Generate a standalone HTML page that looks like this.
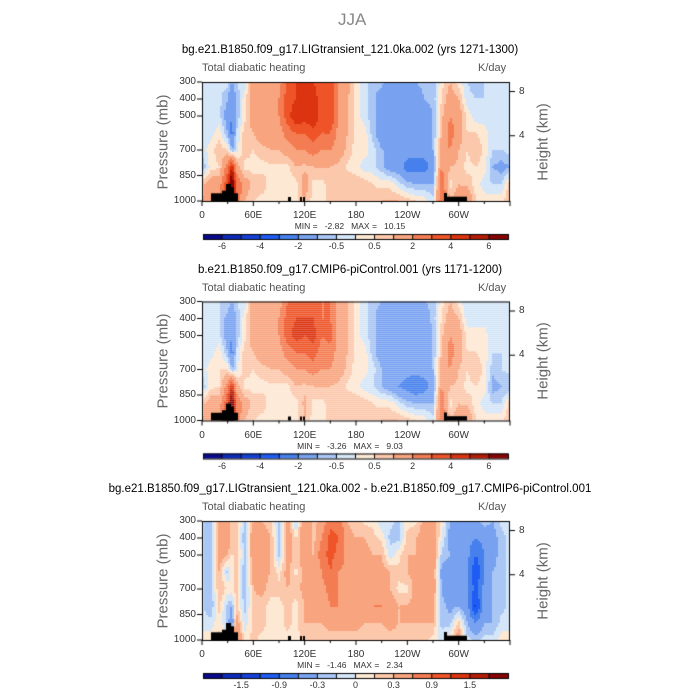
<!DOCTYPE html>
<html><head><meta charset="utf-8">
<style>
body{margin:0;background:#fff;}
#root{position:relative;width:700px;height:700px;overflow:hidden;font-family:"Liberation Sans",sans-serif;}
.t{position:absolute;white-space:nowrap;}
canvas{position:absolute;left:0;top:0;}
</style></head>
<body><div id="root">
<canvas id="cv" width="700" height="700"></canvas>
</div>
<script>
// ---- data ----
const lons=[0,10,20,30,35,40,50,60,70,80,90,100,110,120,130,140,150,160,170,180,190,200,210,220,230,240,250,260,270,280,290,300,310,320,330,340,350,360];
const levels=[300,400,500,600,700,800,900,1000];
const field1=[
[-0.3,-0.3,-0.3,-0.3,-0.3,-1,0.8,1],
[-0.3,-0.3,-0.3,-0.3,0.3,0.2,1.5,1.5],
[-0.3,-0.3,-0.3,0.3,0.8,0.5,1.5,1.5],
[-0.3,-1,-1.5,-1,0.5,2.5,4,4],
[-1,-2,-2,-2.5,-1,5,8,8],
[-0.5,-1,-1,-0.5,-0.3,1.5,3,3],
[-0.3,0.3,0.3,0.8,0.8,0.3,1.5,1],
[1.5,1.5,1.5,1,0.5,0.3,0.8,0.5],
[1.5,1.5,1.5,1.5,0.8,0.3,0.8,0.3],
[1.5,1.5,1.5,1.5,1,0.4,0.3,0.3],
[1.5,2,2,1.5,1,0.4,0.3,0.3],
[3.5,3.5,3.5,2.5,1.5,0.3,0.3,0.3],
[4,4,5,3,2,1,0.3,0.3],
[4,4,4.5,3,2,0.8,1.5,1],
[4,4.5,5,3.5,2.5,1,0.3,0.3],
[3.5,3.5,3.5,3,2,1,0.3,0.3],
[4,3.5,4,3,2,1,0.8,0.8],
[2,2,2,1.5,1.5,0.8,1,1],
[1.5,1,1,1,0.8,0.4,0.8,0.8],
[0.3,0.3,0.3,0.3,0.3,0.3,0.8,0.8],
[-0.3,-0.3,-0.3,0.3,0.3,-0.3,0.8,0.8],
[-0.8,-0.8,-0.8,-0.8,-0.3,-0.3,0.5,0.8],
[-0.8,-1.5,-1.5,-1.5,-1,-0.8,0.3,1],
[-1.5,-1.5,-1.5,-1.5,-1,-1.5,0.3,1],
[-1,-1.5,-1.5,-1.5,-1,-1.5,-0.3,1],
[-1,-1.5,-1.5,-1.5,-1.5,-2.5,-0.8,0.8],
[-1,-1.5,-1.5,-1.5,-1.5,-2.5,-1,0.5],
[-0.8,-1,-1.5,-1.5,-1.5,-2.5,-1,0.3],
[-0.8,-0.8,-1,-1,-1,-1.5,-1,-0.3],
[0.3,0.5,0.8,1,1.5,2,3,3],
[1,1.5,2,2.5,2,1,0.3,1],
[0.3,1,1.5,1.5,1,0.8,1,1.5],
[-0.5,-0.3,0.3,0.5,0.5,0.3,0.8,2],
[-0.8,-0.5,-0.3,0.5,1,0.5,0.3,0.5],
[-0.5,-0.5,-0.3,0.3,0.3,0.3,-0.3,0.3],
[-0.5,-0.5,-0.5,-0.5,-0.5,-1,-0.5,0.3],
[-0.5,-0.5,-0.5,-0.5,-0.5,-1.3,-0.5,0.3],
[-0.3,-0.3,-0.3,-0.3,-0.3,-1,0.8,1]];
const field2=[
[-0.3,-0.3,-0.3,-0.3,-0.3,-1,0.8,1],
[-0.3,-0.3,-0.3,-0.3,0.3,0.3,1.5,1.5],
[-0.5,-0.5,-0.3,0.3,0.5,0.5,1.5,1.5],
[-0.5,-1.3,-1.5,-1,0.5,2.5,4,4],
[-1,-2,-2,-2.5,-1,5,8,8],
[-0.5,-1,-1,-0.5,-0.3,1.5,3,3],
[-0.3,0.3,0.3,0.8,0.8,0.3,1.5,1],
[1.5,1.5,1.5,1,0.5,0.3,0.8,0.5],
[1.5,1.5,1.5,1.5,0.8,0.3,0.8,0.3],
[1.5,1.5,1.5,1.5,1,0.4,0.3,0.3],
[1.5,2,2,1.5,1,0.4,0.3,0.3],
[3,3.5,3.5,2.5,1.5,0.3,0.3,0.3],
[4,4,4.5,3,2,1,0.3,0.3],
[3.5,4,4,3,2,0.8,1.2,1],
[3.5,4,4.5,3.5,2.5,1,0.3,0.3],
[3,3,3,2.5,2,1,0.3,0.3],
[3,3,3.5,2.5,2,1,0.8,0.8],
[1.5,1.5,1.5,1.5,1.5,0.8,1,1],
[1,1,1,1,0.8,0.4,0.8,0.8],
[0.3,0.3,0.3,0.3,0.3,0.3,0.8,0.8],
[-0.3,-0.3,-0.3,0.3,0.3,-0.3,0.8,0.8],
[-0.8,-0.8,-0.8,-0.8,-0.3,-0.5,0.5,0.8],
[-1,-1.5,-1.5,-1.5,-1,-1,0.3,1],
[-1.5,-1.5,-1.5,-1.5,-1.3,-1.5,0.3,1],
[-1.5,-1.5,-1.5,-1.5,-1.3,-2,-0.3,1],
[-1.5,-1.5,-1.5,-1.5,-1.5,-2.5,-0.8,0.8],
[-1.5,-1.5,-1.5,-1.5,-1.5,-3,-1,0.5],
[-1,-1.5,-1.5,-1.5,-1.5,-2.5,-1,0.3],
[-0.8,-0.8,-1,-1,-1,-1.5,-1,-0.3],
[0.3,0.5,0.8,1,1.5,2,3,3],
[1,1.5,2,2.5,2,1,0.3,1],
[0.3,1,1.5,1.5,1,0.8,1,1.5],
[-0.5,-0.3,0.3,0.5,0.5,0.3,0.8,2],
[-0.5,-0.3,0.3,0.5,1,0.5,0.3,0.5],
[-0.3,-0.3,0.3,0.3,0.3,0.3,-0.3,0.3],
[-0.5,-0.5,-0.5,-0.5,-0.8,-1.3,-0.5,0.3],
[-0.3,-0.3,-0.5,-0.5,-0.5,-1,-0.5,0.3],
[-0.3,-0.3,-0.3,-0.3,-0.3,-1,0.8,1]];
const field3=[
[-0.1,-0.1,-0.1,-0.1,-0.1,-0.1,-0.1,0.1],
[-0.3,-0.3,-0.3,-0.3,-0.3,-0.3,-0.1,0.1],
[0.4,0.4,0.4,0.3,0.3,0.2,0.1,0.2],
[0.5,0.5,0.3,-0.2,0.1,-0.2,-0.2,0.2],
[0.2,0.2,0.1,0.1,0.1,-0.3,-0.6,0.5],
[0.3,0.3,0.3,0.2,0.2,0.2,0.5,0.8],
[-0.2,-0.3,-0.2,-0.3,-0.3,-0.2,-0.1,0.1],
[0.3,0.6,0.5,0.4,0.3,0.2,0.2,0.2],
[0.3,0.5,0.5,0.4,0.4,0.2,0.2,0.1],
[0.2,0.3,0.3,0.3,0.2,0.1,0.1,0.1],
[-0.2,-0.2,-0.2,0.1,0.2,0.1,0.1,0.1],
[0.5,0.5,0.4,0.4,0.3,0.2,0.2,0.1],
[-0.2,0.1,0.2,0.1,0.2,0.1,0.1,0.1],
[0.6,0.6,0.5,0.4,0.4,0.3,0.3,0.2],
[0.2,0.2,0.3,0.3,0.3,0.4,0.3,0.2],
[0.4,0.6,0.8,0.6,0.5,0.4,0.3,0.2],
[0.8,1,1,0.9,0.7,0.6,0.4,0.2],
[0.8,0.9,0.8,0.6,0.6,0.6,0.4,0.2],
[0.3,0.4,0.5,0.5,0.5,0.5,0.4,0.2],
[0.2,0.3,0.4,0.4,0.4,0.4,0.4,0.2],
[0.1,0.3,0.4,0.4,0.4,0.4,0.3,0.2],
[0.1,0.2,0.3,0.4,0.4,0.6,0.3,0.2],
[-0.1,0.1,0.3,0.4,0.4,0.6,0.3,0.2],
[-0.1,-0.2,-0.1,0.3,0.3,0.5,0.4,0.2],
[-0.2,-0.2,0.1,0.2,0.1,0.3,0.3,0.2],
[0.1,0.2,0.3,0.3,0.1,0.3,0.3,0.2],
[0.1,0.3,0.3,0.4,0.4,0.4,0.3,0.2],
[0.4,0.4,0.4,0.5,0.5,0.4,0.3,0.2],
[0.4,0.5,0.5,0.5,0.5,0.4,0.3,0.1],
[0.1,0,-0.2,-0.4,-0.3,-0.2,-0.2,-0.1],
[-0.3,-0.4,-0.3,-0.5,-0.6,-0.4,-0.2,0.1],
[-0.3,-0.4,-0.4,-0.4,-0.3,-0.3,0.2,0.5],
[-0.4,-0.5,-0.5,-0.6,-0.6,-0.5,-0.3,-0.1],
[-0.4,-0.6,-0.9,-1.2,-1,-1.3,-0.6,-0.2],
[-0.2,-0.5,-0.6,-0.6,-0.5,-0.4,-0.3,-0.1],
[-0.3,-0.4,-0.4,-0.3,-0.3,-0.3,-0.3,-0.1],
[-0.1,-0.2,-0.2,-0.2,-0.2,-0.2,-0.1,0.1],
[-0.1,-0.1,-0.1,-0.1,-0.1,-0.1,-0.1,0.1]];
const contourLevelsA=[-6,-5,-4,-3,-2,-1,-0.5,0,0.5,1,2,3,4,5,6];
const contourLevelsB=[-1.8,-1.5,-1.2,-0.9,-0.6,-0.3,-0.15,0,0.15,0.3,0.6,0.9,1.2,1.5,1.8];
const cbLabelsA=["-6","-4","-2","-0.5","0.5","2","4","6"];
const cbLabelsB=["-1.5","-0.9","-0.3","0","0.3","0.9","1.5"];
const pTicks=[300,400,500,700,850,1000];
const xTickLons=[0,60,120,180,240,300];
const xTickLabels=["0","60E","120E","180","120W","60W"];
const hTicks=[{km:8,p:356},{km:4,p:616}];
const colors=["#0a0a8c","#0c2bb8","#1440d8","#1e5cf4","#4680ec","#78a2f0","#aac6f4","#d4e6f8","#fde8d4","#fcc8ac","#f8a47e","#f47c52","#ee5428","#dc3410","#b41c06","#880404"];
const panels=[
 {top:82,title:"bg.e21.B1850.f09_g17.LIGtransient_121.0ka.002 (yrs 1271-1300)",field:field1,lev:contourLevelsA,cbl:cbLabelsA,cbStart:1,cbStep:2,min:"-2.82",max:"10.15"},
 {top:301.5,title:"b.e21.B1850.f09_g17.CMIP6-piControl.001 (yrs 1171-1200)",field:field2,lev:contourLevelsA,cbl:cbLabelsA,cbStart:1,cbStep:2,min:"-3.26",max:"9.03"},
 {top:521,title:"bg.e21.B1850.f09_g17.LIGtransient_121.0ka.002 - b.e21.B1850.f09_g17.CMIP6-piControl.001",field:field3,lev:contourLevelsB,cbl:cbLabelsB,cbStart:2,cbStep:2,min:"-1.46",max:"2.34"}
];
// ---- layout ----
const X0=202,X1=510,H=119;
const xs=l=>X0+l/360*(X1-X0);
const root=document.getElementById('root');
const ctx=document.getElementById('cv').getContext('2d');
function txt(s,x,y,size,color,name,extra){
 const d=document.createElement('div');d.className='t';d.textContent=s;
 d.style.left=x+'px';d.style.top=y+'px';d.style.fontSize=size+'px';d.style.color=color;
 if(extra)Object.assign(d.style,extra);
 
 
 root.appendChild(d);return d;
}
function colorFor(v,lev){let i=0;while(i<lev.length&&v>=lev[i])i++;return colors[i];}
function sample(f,lon,p){
 let i=0;while(i<lons.length-2&&lon>lons[i+1])i++;
 const tx=(lon-lons[i])/(lons[i+1]-lons[i]);
 let j=0;while(j<levels.length-2&&p>levels[j+1])j++;
 const ty=Math.max(0,Math.min(1,(p-levels[j])/(levels[j+1]-levels[j])));
 const a=f[i][j]*(1-ty)+f[i][j+1]*ty, b=f[i+1][j]*(1-ty)+f[i+1][j+1]*ty;
 return a*(1-tx)+b*tx;
}
txt("JJA",338,10,17,"#888","main-title");
panels.forEach((P,k)=>{
 const T=P.top,B=T+H, ys=p=>T+(p-300)/700*H;
 const t=txt(P.title,350,T-38,11.5,"#000","panel-title-"+(k+1),{transform:"translateX(-50%)"});
 txt("Total diabatic heating",X0,T-20,11,"#555","panel-subtitle-"+(k+1));
 txt("K/day",X1-32,T-20,11,"#555","units-label-"+(k+1));
 // field
 const st=2;
 for(let x=X0;x<X1;x+=st){for(let y=T;y<B;y+=st){
  const lon=(x+st/2-X0)/(X1-X0)*360, p=300+(y+st/2-T)/H*700;
  ctx.fillStyle=colorFor(sample(P.field,lon,p),P.lev);
  ctx.fillRect(x,y,st,Math.min(st,B-y));
 }}
 // terrain
 ctx.fillStyle="#000";
 const terr=[[211,238,193.3],[222,226,190.7],[226,231,184],[231,234,187.3],[288,291,197],[300,302,197],[303,305,197],[444,467,196.7],[444,447,193]];
 terr.forEach(r=>{const dy=r[2]-201;ctx.fillRect(r[0],B+dy,r[1]-r[0],-dy);});
 // frame
 ctx.strokeStyle="#000";ctx.lineWidth=1;ctx.strokeRect(X0+0.5,T+0.5,X1-X0-1,H);
 pTicks.forEach(p=>{const y=ys(p);ctx.beginPath();ctx.moveTo(X0-5,y);ctx.lineTo(X0,y);ctx.stroke();
  txt(String(p),X0-32,y-6,10,"#333","y-tick-"+p,{width:"26px",textAlign:"right"});});
 hTicks.forEach(h=>{const y=ys(h.p);ctx.beginPath();ctx.moveTo(X1,y);ctx.lineTo(X1+5,y);ctx.stroke();
  txt(String(h.km),X1+9,y-6,10,"#333","height-tick-"+h.km);});
 for(let l=0;l<=360;l+=30){ctx.beginPath();ctx.moveTo(xs(l),B);ctx.lineTo(xs(l),B+(l%60?3:5));ctx.stroke();}
 xTickLons.forEach((l,i)=>txt(xTickLabels[i],xs(l),B+9,10,"#333","x-tick-"+xTickLabels[i],{transform:"translateX(-50%)"}));
 txt("Pressure (mb)",163,(T+B)/2,15,"#666","y-axis-title-"+(k+1),{transform:"translate(-50%,-50%) rotate(-90deg)"});
 txt("Height (km)",543,(T+B)/2,15,"#666","right-axis-title-"+(k+1),{transform:"translate(-50%,-50%) rotate(-90deg)"});
 txt("MIN =   "+P.min+"   MAX =   "+P.max,350,B+20,8.5,"#333","min-max-"+(k+1),{transform:"translateX(-50%)",whiteSpace:"pre"});
 // colorbar
 const cy=B+33,cw=(508-203)/16;
 colors.forEach((c,i)=>{ctx.fillStyle=c;ctx.fillRect(203+i*cw,cy,cw,5);});
 ctx.strokeStyle="#000";ctx.strokeRect(203.5,cy+0.5,305,5);
 for(let i=1;i<16;i++){ctx.beginPath();ctx.moveTo(203+i*cw,cy);ctx.lineTo(203+i*cw,cy+5);ctx.stroke();}
 P.cbl.forEach((s,i)=>txt(s,203+(P.cbStart+i*P.cbStep)*cw,cy+7,9,"#333","colorbar-label-"+(k+1)+"-"+i,{transform:"translateX(-50%)"}));
});
</script>
</body></html>
